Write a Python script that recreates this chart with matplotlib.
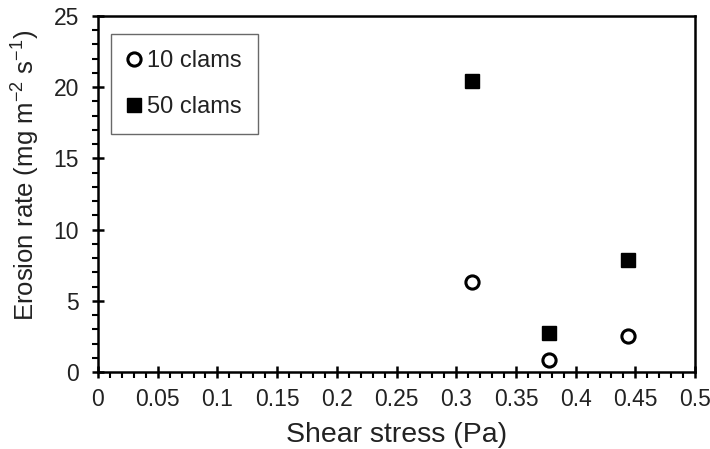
import matplotlib.pyplot as plt
from matplotlib.ticker import MultipleLocator

plt.rcParams["font.family"] = ["Liberation Sans", "DejaVu Sans"]

shear_stress = [0.313, 0.378, 0.444]
erosion_10_clams = [6.35, 0.85, 2.55]
erosion_50_clams = [20.4, 2.75, 7.85]
x_tick_labels = ["0", "0.05", "0.1", "0.15", "0.2", "0.25", "0.3",
                 "0.35", "0.4", "0.45", "0.5"]

text_color = "#222222"

fig = plt.figure(figsize=(7.10, 4.49), dpi=100)
ax = fig.add_axes([0.138, 0.1715, 0.841, 0.793])

ax.plot(shear_stress, erosion_10_clams, linestyle="none", marker="o",
        markersize=9.5, markerfacecolor="white", markeredgecolor="black",
        markeredgewidth=2.2, label="10 clams")
ax.plot(shear_stress, erosion_50_clams, linestyle="none", marker="s",
        markersize=9.5, color="black", label="50 clams")

ax.set_xlim(0, 0.5)
ax.set_ylim(0, 25)
ax.set_xticks([i * 0.05 for i in range(len(x_tick_labels))])
ax.set_xticklabels(x_tick_labels)
ax.xaxis.set_minor_locator(MultipleLocator(0.01))
ax.yaxis.set_major_locator(MultipleLocator(5))
ax.yaxis.set_minor_locator(MultipleLocator(1))

ax.tick_params(which="major", direction="inout", length=9, width=1.8,
               labelsize=16.5, labelcolor=text_color)
ax.tick_params(axis="x", which="major", pad=7)
ax.tick_params(axis="y", which="major", pad=9)
ax.tick_params(which="minor", direction="out", length=4, width=1.5)
for spine in ax.spines.values():
    spine.set_linewidth(1.8)

ax.set_xlabel("Shear stress (Pa)", fontsize=20.5, color=text_color,
              labelpad=8)
ax.set_ylabel("Erosion rate (mg m$^{\\mathregular{-2}}$ s$^{\\mathregular{-1}}$)",
              fontsize=18.5, color=text_color)
ax.yaxis.set_label_coords(-0.095, 0.553)

ax.legend(loc="upper left", bbox_to_anchor=(0.022, 0.95), fontsize=17,
          frameon=True, fancybox=False, edgecolor="#444444",
          handlelength=0.5, handletextpad=0.3, labelspacing=1.0,
          borderpad=0.7, borderaxespad=0, labelcolor=text_color)

fig.savefig("out.png", dpi=100)
